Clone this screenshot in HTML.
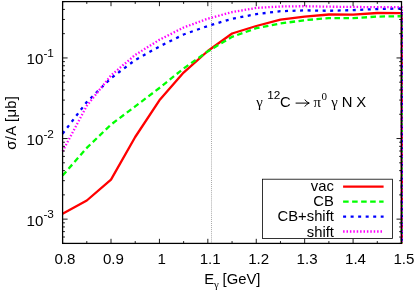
<!DOCTYPE html><html><head><meta charset="utf-8"><style>html,body{margin:0;padding:0;background:#fff}svg{display:block;will-change:transform}text{font-family:"Liberation Sans",sans-serif;font-size:14.8px;fill:#000}.s{font-size:11.8px}.g{font-family:"Liberation Serif",serif}</style></head><body>
<svg width="415" height="293" viewBox="0 0 415 293">
<rect width="415" height="293" fill="#fff"/>
<line x1="211.5" y1="1.6" x2="211.5" y2="243.4" stroke="#a8a8a8" stroke-width="1" stroke-dasharray="1 1.05"/>
<g fill="none" stroke-width="2.3" stroke-linejoin="round">
<polyline points="62.6,213.7 86.8,200.5 111.0,179.6 135.2,137.0 159.4,100.3 183.6,72.6 207.8,51.0 232.1,33.5 256.3,26.0 280.5,19.6 304.7,16.6 328.9,14.5 353.1,14.7 377.3,13.0 401.80,13.1 401.80,243.4" stroke="#ff0000"/>
<polyline points="62.6,175.6 86.8,147.9 111.0,124.6 135.2,106.4 159.4,88.0 183.6,68.5 207.8,51.4 232.1,36.8 256.3,28.2 280.5,23.5 304.7,20.2 328.9,18.1 353.1,18.1 377.3,16.6 401.80,16.2 401.80,243.4" stroke="#00ff00" stroke-dasharray="5.55 3.47"/>
<polyline points="62.6,133.7 86.8,102.0 111.0,78.2 135.2,60.0 159.4,46.5 183.6,34.5 207.8,26.0 232.1,18.8 256.3,14.1 280.5,11.2 304.7,10.4 328.9,10.8 353.1,10.1 377.3,9.0 401.80,8.5 401.80,243.4" stroke="#0000ff" stroke-dasharray="3 4.525"/>
<polyline points="62.6,151.3 86.8,105.8 111.0,75.4 135.2,54.9 159.4,39.8 183.6,27.5 207.8,18.7 232.1,12.1 256.3,7.9 280.5,6.5 304.7,6.2 328.9,6.7 353.1,6.9 377.3,7.2 401.80,7.2 401.80,243.4" stroke="#ff00ff" stroke-dasharray="1.5 1.9"/>
</g>
<path d="M62.60 243.40v-4.6M62.60 1.60v4.6M86.81 243.40v-2.3M86.81 1.60v2.3M111.01 243.40v-4.6M111.01 1.60v4.6M135.22 243.40v-2.3M135.22 1.60v2.3M159.43 243.40v-4.6M159.43 1.60v4.6M183.64 243.40v-2.3M183.64 1.60v2.3M207.84 243.40v-4.6M207.84 1.60v4.6M232.05 243.40v-2.3M232.05 1.60v2.3M256.26 243.40v-4.6M256.26 1.60v4.6M280.46 243.40v-2.3M280.46 1.60v2.3M304.67 243.40v-4.6M304.67 1.60v4.6M328.88 243.40v-2.3M328.88 1.60v2.3M353.09 243.40v-4.6M353.09 1.60v4.6M377.29 243.40v-2.3M377.29 1.60v2.3M401.50 243.40v-4.6M401.50 1.60v4.6M62.60 243.40h2.3M401.50 243.40h-2.3M62.60 237.02h2.3M401.50 237.02h-2.3M62.60 231.62h2.3M401.50 231.62h-2.3M62.60 226.95h2.3M401.50 226.95h-2.3M62.60 222.83h2.3M401.50 222.83h-2.3M62.60 219.14h5.0M401.50 219.14h-5.0M62.60 194.87h2.3M401.50 194.87h-2.3M62.60 180.68h2.3M401.50 180.68h-2.3M62.60 170.61h2.3M401.50 170.61h-2.3M62.60 162.80h2.3M401.50 162.80h-2.3M62.60 156.42h2.3M401.50 156.42h-2.3M62.60 151.02h2.3M401.50 151.02h-2.3M62.60 146.35h2.3M401.50 146.35h-2.3M62.60 142.23h2.3M401.50 142.23h-2.3M62.60 138.54h5.0M401.50 138.54h-5.0M62.60 114.27h2.3M401.50 114.27h-2.3M62.60 100.08h2.3M401.50 100.08h-2.3M62.60 90.01h2.3M401.50 90.01h-2.3M62.60 82.20h2.3M401.50 82.20h-2.3M62.60 75.82h2.3M401.50 75.82h-2.3M62.60 70.42h2.3M401.50 70.42h-2.3M62.60 65.75h2.3M401.50 65.75h-2.3M62.60 61.63h2.3M401.50 61.63h-2.3M62.60 57.94h5.0M401.50 57.94h-5.0M62.60 33.67h2.3M401.50 33.67h-2.3M62.60 19.48h2.3M401.50 19.48h-2.3M62.60 9.41h2.3M401.50 9.41h-2.3M62.60 1.60h2.3M401.50 1.60h-2.3" stroke="#000" stroke-width="0.9" fill="none"/>
<rect x="62.6" y="1.6" width="338.9" height="241.8" fill="none" stroke="#000" stroke-width="1.25"/>
<text x="26.6" y="64.4" style="font-size:15.1px">10<tspan class="s" dy="-7.3">-1</tspan></text>
<text x="26.6" y="145.0" style="font-size:15.1px">10<tspan class="s" dy="-7.3">-2</tspan></text>
<text x="26.6" y="225.6" style="font-size:15.1px">10<tspan class="s" dy="-7.3">-3</tspan></text>
<text x="65.0" y="263.6" text-anchor="middle" style="font-size:15.1px">0.8</text>
<text x="113.4" y="263.6" text-anchor="middle" style="font-size:15.1px">0.9</text>
<text x="161.8" y="263.6" text-anchor="middle" style="font-size:15.1px">1</text>
<text x="210.2" y="263.6" text-anchor="middle" style="font-size:15.1px">1.1</text>
<text x="258.7" y="263.6" text-anchor="middle" style="font-size:15.1px">1.2</text>
<text x="307.1" y="263.6" text-anchor="middle" style="font-size:15.1px">1.3</text>
<text x="355.5" y="263.6" text-anchor="middle" style="font-size:15.1px">1.4</text>
<text x="403.9" y="263.6" text-anchor="middle" style="font-size:15.1px">1.5</text>
<text x="204.2" y="284.3">E<tspan class="g" style="font-size:10.8px" dy="3.2">γ</tspan><tspan x="222.6" dy="-3.2">[GeV]</tspan></text>
<text transform="translate(15.5,122.7) rotate(-90)" text-anchor="middle" letter-spacing="0.33">σ/A [μb]</text>
<text x="256.3" y="106.7" class="g">γ</text>
<text x="267.2" y="99.3" class="s">12</text>
<text x="280" y="106.7">C</text>
<path d="M295.6 103.1H308.8M304.8 99.6Q306.4 102.3 309.3 103.1Q306.4 103.9 304.8 106.6" fill="none" stroke="#000" stroke-width="1"/>
<text x="313.6" y="106.7" class="g">π</text>
<text x="321.5" y="99.5" class="g" style="font-size:11px">0</text>
<text x="331.3" y="106.7" class="g">γ</text>
<text x="341.8" y="106.7">N</text>
<text x="356.2" y="106.7">X</text>
<rect x="262.5" y="179.2" width="130" height="59.3" fill="#fff" stroke="#000" stroke-width="0.8"/>
<text x="333.9" y="191.2" text-anchor="end">vac</text>
<line x1="343.1" y1="186.7" x2="383.6" y2="186.7" stroke="#ff0000" stroke-width="2.3"/>
<text x="333.9" y="206.3" text-anchor="end">CB</text>
<line x1="343.1" y1="201.6" x2="383.6" y2="201.6" stroke="#00ff00" stroke-width="2.3" stroke-dasharray="5.55 3.47"/>
<text x="333.9" y="221.4" text-anchor="end">CB+shift</text>
<line x1="343.1" y1="216.6" x2="383.6" y2="216.6" stroke="#0000ff" stroke-width="2.3" stroke-dasharray="3 4.525"/>
<text x="333.9" y="236.5" text-anchor="end">shift</text>
<line x1="343.1" y1="231.5" x2="383.6" y2="231.5" stroke="#ff00ff" stroke-width="2.3" stroke-dasharray="1.5 1.9"/>
</svg></body></html>
